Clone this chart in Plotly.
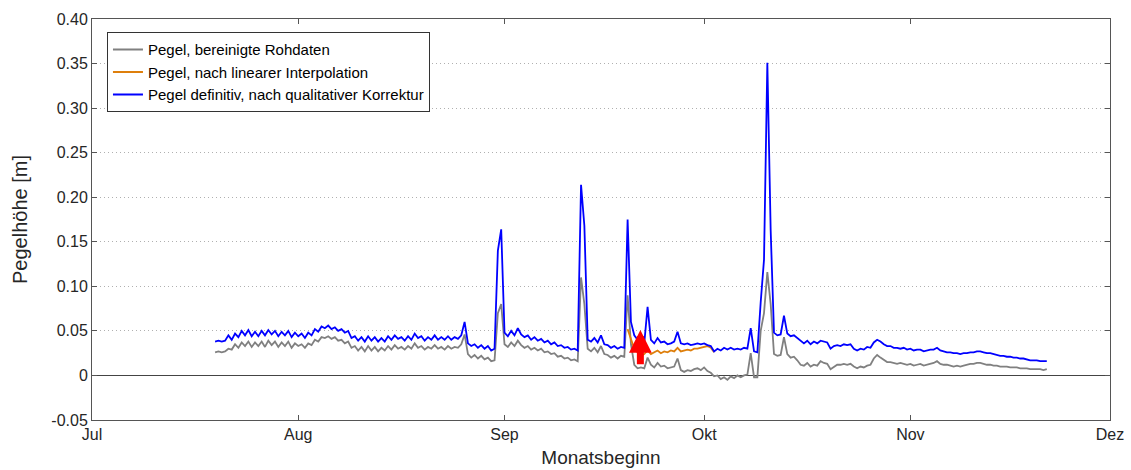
import pandas as pd
import plotly.graph_objects as go

# Half-daily water level samples, starting 19 July 12:00
series_start = "2012-07-19 12:00"
step = "12h"

# Pegel definitiv, nach qualitativer Korrektur [m]
pegel_definitiv = [
    .038, .039, .038, .039, .045, .040, .047, .043, .050, .045, .051, .044, .049, .044,
    .050, .045, .051, .046, .050, .044, .049, .045, .050, .043, .048, .044, .047, .042,
    .048, .045, .052, .049, .055, .053, .056, .052, .054, .050, .052, .048, .050, .042,
    .044, .039, .043, .038, .044, .039, .043, .038, .042, .038, .044, .040, .045, .041,
    .043, .039, .044, .040, .047, .042, .044, .039, .043, .040, .045, .040, .043, .040,
    .044, .040, .043, .041, .045, .060, .036, .033, .035, .031, .034, .030, .033, .028,
    .030, .140, .164, .048, .044, .050, .045, .053, .046, .043, .045, .040, .043, .039,
    .041, .037, .039, .035, .037, .033, .034, .031, .032, .029, .030, .028, .214, .168,
    .040, .038, .042, .037, .045, .035, .034, .031, .033, .030, .032, .031, .175, .060,
    .045, .040, .038, .036, .077, .040, .036, .042, .037, .038, .035, .036, .038, .049,
    .036, .035, .036, .034, .035, .036, .035, .036, .034, .033, .027, .030, .028, .031,
    .029, .031, .029, .030, .029, .031, .030, .053, .027, .026, .082, .130, .351, .163,
    .048, .045, .046, .067, .047, .044, .045, .042, .038, .036, .039, .035, .038, .036,
    .039, .038, .037, .030, .033, .034, .033, .035, .034, .035, .030, .028, .030, .029,
    .032, .031, .037, .040, .038, .035, .033, .033, .031, .031, .030, .031, .029, .030,
    .028, .029, .029, .027, .028, .029, .029, .031, .028, .027, .026, .026, .025, .025,
    .024, .025, .025, .026, .026, .027, .027, .026, .025, .025, .024, .023, .022, .022,
    .021, .021, .020, .020, .019, .019, .018, .017, .017, .017, .016, .016, .016,
]

# Pegel, bereinigte Rohdaten [m]
pegel_rohdaten = [
    .026, .027, .026, .027, .030, .029, .035, .031, .037, .033, .038, .032, .037, .033,
    .038, .032, .039, .034, .038, .032, .037, .033, .038, .031, .036, .033, .035, .031,
    .036, .034, .040, .038, .043, .042, .044, .041, .043, .039, .040, .036, .038, .031,
    .033, .028, .032, .027, .033, .028, .032, .027, .031, .028, .033, .029, .034, .030,
    .032, .029, .033, .030, .036, .031, .033, .029, .032, .030, .034, .030, .032, .029,
    .033, .030, .032, .031, .035, .046, .024, .020, .023, .019, .022, .018, .020, .016,
    .017, .070, .080, .035, .032, .037, .033, .039, .034, .031, .033, .029, .031, .028,
    .030, .026, .027, .024, .025, .021, .022, .019, .020, .017, .018, .016, .110, .080,
    .030, .027, .031, .026, .033, .024, .023, .020, .022, .019, .022, .021, .090, .035,
    .012, .008, .009, .008, .020, .012, .009, .014, .010, .011, .008, .009, .010, .019,
    .006, .004, .006, .005, .007, .008, .006, .009, .005, .003, -.001, .000, -.004, -.002,
    -.005, -.001, -.003, .000, -.002, .000, .001, .025, -.002, -.002, .050, .070, .116, .080,
    .024, .022, .023, .043, .024, .020, .021, .017, .012, .011, .014, .010, .012, .011,
    .016, .014, .013, .007, .010, .012, .012, .013, .012, .013, .010, .008, .010, .009,
    .011, .012, .019, .023, .020, .017, .015, .015, .014, .013, .014, .013, .012, .013,
    .011, .012, .013, .011, .012, .013, .014, .016, .013, .012, .012, .011, .010, .011,
    .010, .011, .012, .013, .013, .014, .014, .013, .012, .012, .011, .011, .010, .010,
    .010, .009, .009, .009, .008, .008, .008, .007, .007, .007, .007, .006, .007,
]

# Pegel, nach linearer Interpolation [m] (gap period from 19 Sep 12:00)
interp_start = "2012-09-19 12:00"
pegel_interpoliert = [
    .052, .040, .030, .026, .022, .024, .028, .024, .026, .028, .025, .027, .026, .028,
    .027, .031, .027, .028, .029, .028, .030, .030, .031, .032, .033, .031, .026,
]

month_ticks = ["2012-07-01", "2012-08-01", "2012-09-01", "2012-10-01", "2012-11-01", "2012-12-01"]
month_labels = ["Jul", "Aug", "Sep", "Okt", "Nov", "Dez"]
y_ticks = [-0.05, 0, 0.05, 0.10, 0.15, 0.20, 0.25, 0.30, 0.35, 0.40]
y_labels = ["-0.05", "0", "0.05", "0.10", "0.15", "0.20", "0.25", "0.30", "0.35", "0.40"]

# Marker arrow at the start of the correction window
arrow_time = "2012-09-21 10:00"
arrow_tail = 0.011
arrow_tip = 0.051

t_main = pd.date_range(series_start, periods=len(pegel_definitiv), freq=step)
t_interp = pd.date_range(interp_start, periods=len(pegel_interpoliert), freq=step)

fig = go.Figure()
fig.add_trace(go.Scatter(x=t_main, y=pegel_rohdaten, mode="lines",
                         name="Pegel, bereinigte Rohdaten",
                         line=dict(color="#808080", width=1.8)))
fig.add_trace(go.Scatter(x=t_interp, y=pegel_interpoliert, mode="lines",
                         name="Pegel, nach linearer Interpolation",
                         line=dict(color="#DE7F0C", width=1.8)))
fig.add_trace(go.Scatter(x=t_main, y=pegel_definitiv, mode="lines",
                         name="Pegel definitiv, nach qualitativer Korrektur",
                         line=dict(color="#0000FF", width=1.8)))

fig.add_annotation(x=arrow_time, y=arrow_tip, ax=arrow_time, ay=arrow_tail,
                   xref="x", yref="y", axref="x", ayref="y", text="",
                   showarrow=True, arrowhead=2, arrowsize=0.65, arrowwidth=7,
                   arrowcolor="#FF0000")

axis_col = "#555555"
fig.update_layout(
    width=1131, height=470,
    margin=dict(l=92, r=21, t=19, b=50),
    paper_bgcolor="white", plot_bgcolor="white",
    font=dict(family="Liberation Sans, Arial, sans-serif", size=16, color="#262626"),
    showlegend=True,
    legend=dict(x=0.0147, y=0.967, xanchor="left", yanchor="top",
                bgcolor="white", bordercolor="#333333", borderwidth=1,
                font=dict(size=15, color="#000000"), itemwidth=30,
                tracegroupgap=0),
)
fig.update_xaxes(
    type="date", range=["2012-07-01", "2012-12-01"],
    tickvals=month_ticks, ticktext=month_labels,
    ticks="inside", ticklen=5, tickcolor=axis_col,
    showline=True, linecolor=axis_col, linewidth=1, mirror="ticks",
    showgrid=False, zeroline=False, automargin=False,
    title=dict(text="Monatsbeginn", font=dict(size=19), standoff=8),
)
fig.update_yaxes(
    range=[-0.05, 0.40],
    tickvals=y_ticks, ticktext=y_labels,
    ticks="inside", ticklen=5, tickcolor=axis_col,
    showline=True, linecolor=axis_col, linewidth=1, mirror="ticks",
    showgrid=True, gridcolor="#b0b0b0", gridwidth=1, griddash="1px,3px",
    zeroline=True, zerolinecolor="#444444", zerolinewidth=1, automargin=False,
    title=dict(text="Pegelhöhe [m]", font=dict(size=20), standoff=18),
)

fig.write_html("out.html")
